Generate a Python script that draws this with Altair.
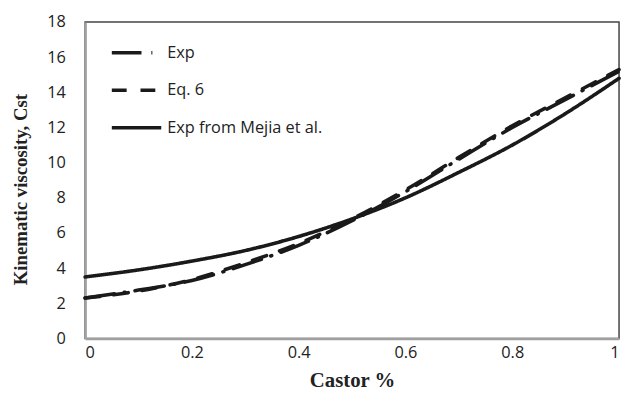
import altair as alt
import pandas as pd

castor = [0.0, 0.1, 0.2, 0.3, 0.4, 0.5, 0.6, 0.7, 0.8, 0.9, 1.0]
exp_vals = [2.3, 2.75, 3.3, 4.2, 5.3, 6.7, 8.35, 10.2, 12.0, 13.6, 15.2]
eq6_vals = [2.3, 2.7, 3.35, 4.3, 5.4, 6.8, 8.45, 10.3, 12.1, 13.7, 15.3]
mejia_vals = [3.5, 3.9, 4.4, 5.0, 5.8, 6.8, 8.0, 9.45, 11.0, 12.8, 14.8]

series_names = ["Exp", "Eq. 6", "Exp from Mejia et al."]
dashes = [[30, 10, 1, 10], [15, 14], [1, 0]]

rows = []
for name, vals in zip(series_names, [exp_vals, eq6_vals, mejia_vals]):
    for x, y in zip(castor, vals):
        rows.append({"castor": x, "visc": y, "series": name})
df = pd.DataFrame(rows)

chart = alt.Chart(df).mark_line(
    color="#1a1a1a", strokeWidth=3.6, strokeCap="round", interpolate="monotone"
).encode(
    x=alt.X("castor:Q", title="Castor %",
            scale=alt.Scale(domain=[0, 1], nice=False),
            axis=alt.Axis(values=[0, 0.2, 0.4, 0.6, 0.8, 1], format="~g",
                          grid=False, ticks=False, labelPadding=6,
                          domainColor="#a0a0a0", domainWidth=2.5,
                          labelFont="Open Sans", labelFontSize=16.5, labelColor="#222",
                          titleFont="Liberation Serif", titleFontSize=21,
                          titleFontWeight="bold", titleColor="#222", titlePadding=9)),
    y=alt.Y("visc:Q", title="Kinematic viscosity, Cst",
            scale=alt.Scale(domain=[0, 18], nice=False),
            axis=alt.Axis(values=list(range(0, 19, 2)), grid=False, ticks=False,
                          labelPadding=20, domainColor="#a0a0a0", domainWidth=2.5,
                          labelFont="Open Sans", labelFontSize=16.5, labelColor="#222",
                          titleFont="Liberation Serif", titleFontSize=19,
                          titleFontWeight="bold", titleColor="#222", titlePadding=16,
                          titleY=169)),
    strokeDash=alt.StrokeDash("series:N",
                              scale=alt.Scale(domain=series_names, range=dashes),
                              legend=alt.Legend(title=None, orient="none",
                                                legendX=25, legendY=4,
                                                symbolType="stroke", symbolSize=2500,
                                                symbolStrokeWidth=3.6,
                                                symbolStrokeColor="#1a1a1a",
                                                labelFont="Open Sans", labelFontSize=16.5,
                                                labelColor="#222", rowPadding=2,
                                                labelOffset=4)),
    detail="series:N",
).properties(
    width=540, height=320,
    padding={"left": 78, "top": 12, "right": 4, "bottom": 56},
    autosize=alt.AutoSizeParams(type="none"),
).configure_view(stroke="#444", strokeWidth=1.5)

chart.save("out.html", embed_options={"renderer": "svg", "actions": False})
